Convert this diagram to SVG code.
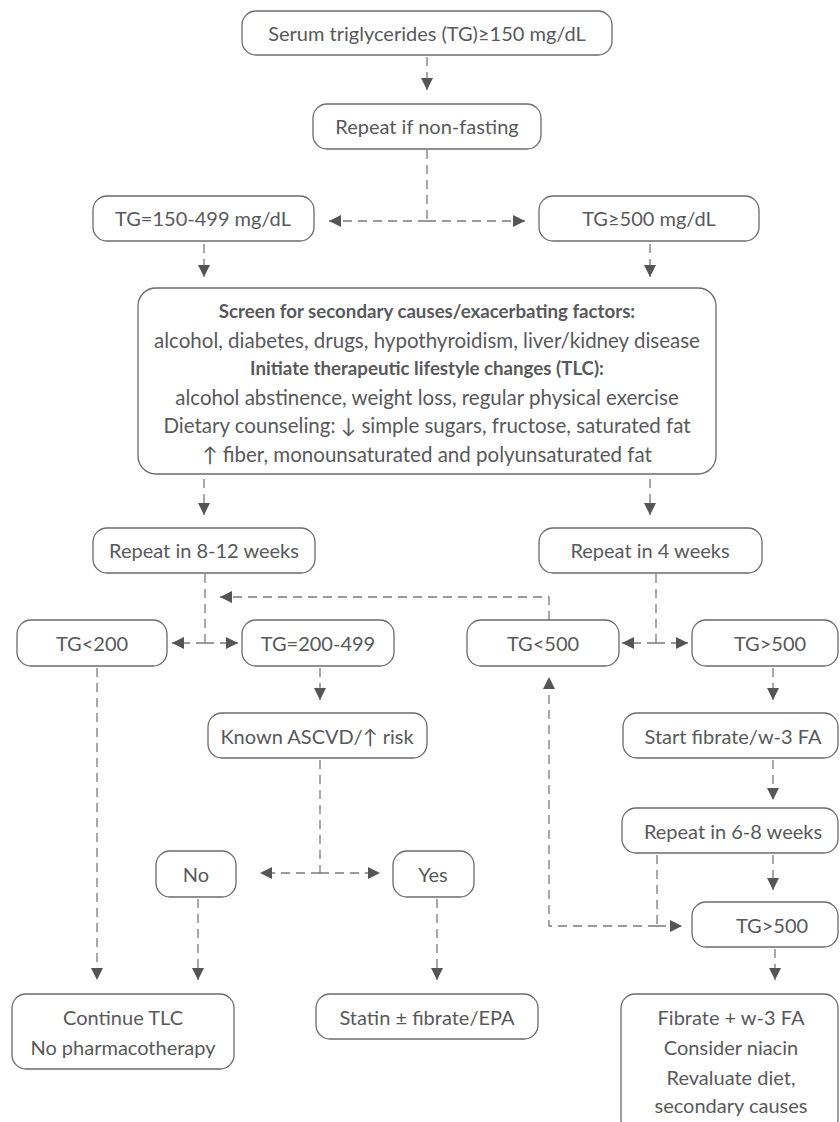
<svg xmlns="http://www.w3.org/2000/svg" width="840" height="1122" viewBox="0 0 840 1122">
<defs>
<style>
.box{fill:#fff;stroke:#6b6b6b;stroke-width:1.3}
.t{font-family:Lato,"Open Sans",sans-serif;font-size:20px;fill:#58595b;text-anchor:middle;dominant-baseline:central}
.s{font-size:20.5px}
.b{font-weight:bold;font-size:18.7px}
.c{fill:none;stroke:#7a7a7a;stroke-width:1.3;stroke-dasharray:9 6}
</style>
<marker id="ah" viewBox="0 0 12 12" refX="12" refY="6" markerWidth="12" markerHeight="12" markerUnits="userSpaceOnUse" orient="auto-start-reverse">
<path d="M0,0 L12,6 L0,12 z" fill="#555"/>
</marker>
</defs>
<rect width="840" height="1122" fill="#fff"/>

<g id="connectors">
<path class="c" d="M427,57 V90" marker-end="url(#ah)"/>
<path class="c" d="M427,150 V221"/>
<path class="c" d="M427,221 H329" marker-end="url(#ah)"/>
<path class="c" d="M427,221 H525" marker-end="url(#ah)"/>
<path class="c" d="M204,244 V277" marker-end="url(#ah)"/>
<path class="c" d="M650,244 V277" marker-end="url(#ah)"/>
<path class="c" d="M204,479 V515" marker-end="url(#ah)"/>
<path class="c" d="M650,479 V515" marker-end="url(#ah)"/>
<path class="c" d="M205,574 V643"/>
<path class="c" d="M205,643 H172" marker-end="url(#ah)"/>
<path class="c" d="M205,643 H238" marker-end="url(#ah)"/>
<path class="c" d="M549,620 V597 H220" marker-end="url(#ah)"/>
<path class="c" d="M656,574 V643"/>
<path class="c" d="M656,643 H622" marker-end="url(#ah)"/>
<path class="c" d="M656,643 H688" marker-end="url(#ah)"/>
<path class="c" d="M773,668 V700" marker-end="url(#ah)"/>
<path class="c" d="M320,668 V700" marker-end="url(#ah)"/>
<path class="c" d="M320,760 V873"/>
<path class="c" d="M320,873 H260" marker-end="url(#ah)"/>
<path class="c" d="M320,873 H380" marker-end="url(#ah)"/>
<path class="c" d="M97,668 V980" marker-end="url(#ah)"/>
<path class="c" d="M198,899 V980" marker-end="url(#ah)"/>
<path class="c" d="M437,899 V980" marker-end="url(#ah)"/>
<path class="c" d="M773,760 V800" marker-end="url(#ah)"/>
<path class="c" d="M773,855 V890" marker-end="url(#ah)"/>
<path class="c" d="M657,855 V926"/>
<path class="c" d="M657,926 H682" marker-end="url(#ah)"/>
<path class="c" d="M657,926 H549 V677" marker-end="url(#ah)"/>
<path class="c" d="M775,949 V980" marker-end="url(#ah)"/>
</g>

<g id="n-serum"><rect class="box" x="242" y="11" width="370" height="44" rx="14"/><text class="t" x="427" y="33">Serum triglycerides (TG)≥150 mg/dL</text></g>
<g id="n-repeat-nonfasting"><rect class="box" x="313" y="104" width="228" height="45" rx="14"/><text class="t" x="427" y="126">Repeat if non-fasting</text></g>
<g id="n-tg150"><rect class="box" x="93" y="196" width="221" height="45" rx="14"/><text class="t" x="203" y="218">TG=150-499 mg/dL</text></g>
<g id="n-tg500"><rect class="box" x="539" y="196" width="220" height="45" rx="14"/><text class="t" x="649" y="218">TG≥500 mg/dL</text></g>
<g id="n-screen"><rect class="box" x="138" y="288" width="578" height="186" rx="18"/>
<text class="t b" x="427" y="311">Screen for secondary causes/exacerbating factors:</text>
<text class="t s" x="427" y="340">alcohol, diabetes, drugs, hypothyroidism, liver/kidney disease</text>
<text class="t b" x="427" y="368">Initiate therapeutic lifestyle changes (TLC):</text>
<text class="t s" x="427" y="397">alcohol abstinence, weight loss, regular physical exercise</text>
<text class="t s" x="427" y="425">Dietary counseling: ↓ simple sugars, fructose, saturated fat</text>
<text class="t s" x="427" y="454">↑ fiber, monounsaturated and polyunsaturated fat</text></g>
<g id="n-repeat812"><rect class="box" x="93" y="528" width="222" height="45" rx="14"/><text class="t" x="204" y="550">Repeat in 8-12 weeks</text></g>
<g id="n-repeat4"><rect class="box" x="539" y="528" width="223" height="45" rx="14"/><text class="t" x="650" y="550">Repeat in 4 weeks</text></g>
<g id="n-tg200"><rect class="box" x="17" y="620" width="150" height="46" rx="14"/><text class="t" x="92" y="643">TG&lt;200</text></g>
<g id="n-tg200-499"><rect class="box" x="242" y="620" width="152" height="46" rx="14"/><text class="t" x="318" y="643">TG=200-499</text></g>
<g id="n-tglt500"><rect class="box" x="467" y="620" width="152" height="46" rx="14"/><text class="t" x="543" y="643">TG&lt;500</text></g>
<g id="n-tggt500a"><rect class="box" x="692" y="620" width="146" height="46" rx="14"/><text class="t" x="770" y="643">TG&gt;500</text></g>
<g id="n-ascvd"><rect class="box" x="208" y="713" width="219" height="45" rx="14"/><text class="t" x="317" y="736">Known ASCVD/↑ risk</text></g>
<g id="n-fibrate"><rect class="box" x="623" y="713" width="215" height="45" rx="14"/><text class="t" x="733" y="736">Start fibrate/w-3 FA</text></g>
<g id="n-repeat68"><rect class="box" x="622" y="808" width="216" height="45" rx="14"/><text class="t" x="733" y="831">Repeat in 6-8 weeks</text></g>
<g id="n-no"><rect class="box" x="156" y="851" width="80" height="46" rx="14"/><text class="t" x="196" y="874">No</text></g>
<g id="n-yes"><rect class="box" x="393" y="851" width="81" height="46" rx="14"/><text class="t" x="433" y="874">Yes</text></g>
<g id="n-tggt500b"><rect class="box" x="692" y="902" width="146" height="45" rx="14"/><text class="t" x="772" y="925">TG&gt;500</text></g>
<g id="n-continue"><rect class="box" x="12" y="994" width="222" height="75" rx="14"/><text class="t" x="123" y="1017">Continue TLC</text><text class="t" x="123" y="1047">No pharmacotherapy</text></g>
<g id="n-statin"><rect class="box" x="316" y="994" width="222" height="45" rx="14"/><text class="t" x="427" y="1017">Statin ± fibrate/EPA</text></g>
<g id="n-final"><rect class="box" x="621" y="994" width="217" height="140" rx="14"/>
<text class="t" x="731" y="1017">Fibrate + w-3 FA</text>
<text class="t" x="731" y="1047">Consider niacin</text>
<text class="t" x="731" y="1077">Revaluate diet,</text>
<text class="t" x="731" y="1105">secondary causes</text></g>
</svg>
